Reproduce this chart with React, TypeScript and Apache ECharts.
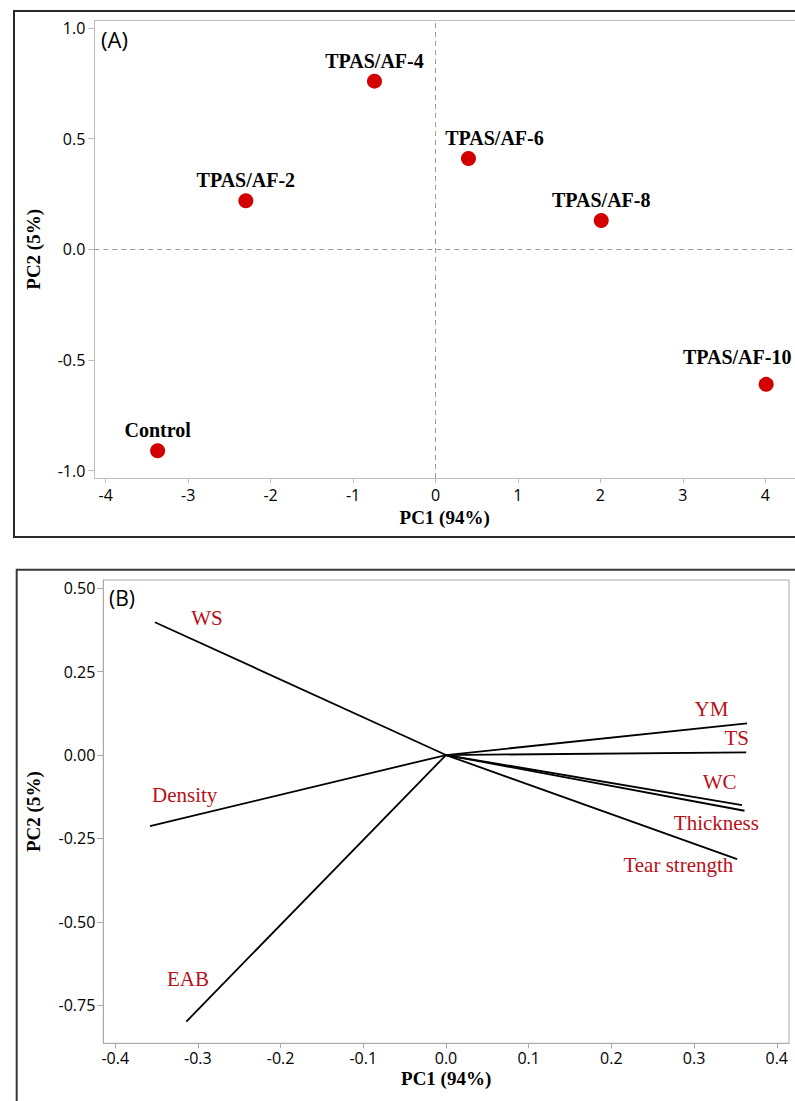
import React, { useEffect, useRef } from "react";
import * as echarts from "echarts";

// Panel A: PCA scores
const samples = ["Control", "TPAS/AF-2", "TPAS/AF-4", "TPAS/AF-6", "TPAS/AF-8", "TPAS/AF-10"];
const pc1Scores = [-3.37, -2.3, -0.74, 0.4, 2.01, 4.01];
const pc2Scores = [-0.91, 0.22, 0.76, 0.41, 0.13, -0.61];
const scoreXTicks = [-4, -3, -2, -1, 0, 1, 2, 3, 4];
const scoreYTicks = [-1.0, -0.5, 0.0, 0.5, 1.0];

// Panel B: PCA loadings
const variables = ["WS", "Density", "EAB", "YM", "TS", "WC", "Thickness", "Tear strength"];
const pc1Loadings = [-0.352, -0.358, -0.314, 0.364, 0.363, 0.358, 0.361, 0.352];
const pc2Loadings = [0.398, -0.213, -0.799, 0.095, 0.008, -0.15, -0.167, -0.312];
// where each variable's name is written (data coordinates)
const labelPc1 = [-0.289, -0.316, -0.312, 0.321, 0.3515, 0.331, 0.327, 0.281];
const labelPc2 = [0.41, -0.12, -0.672, 0.137, 0.05, -0.08, -0.205, -0.33];
const loadingXTicks = [-0.4, -0.3, -0.2, -0.1, 0.0, 0.1, 0.2, 0.3, 0.4];
const loadingYTicks = [-0.75, -0.5, -0.25, 0.0, 0.25, 0.5];

// label nudges for crowded score labels (pixels)
const scoreLabelOffsets: number[][] = [[0, 0], [0, 0], [0, 0], [26, 0], [0, 0], [-29, -7]];

const SERIF = "Liberation Serif";
const SANS = "Open Sans";

export default function App() {
  const ref = useRef<HTMLDivElement>(null);
  useEffect(() => {
    if (!ref.current) return;
    const chart = echarts.init(ref.current, null, { renderer: "svg" });
    const tickLabel = { fontFamily: SANS, fontSize: 16, color: "#000" };
    const option: any = {
      animation: false,
      backgroundColor: "#fff",
      graphic: [
        {
          type: "rect",
          shape: { x: 14, y: 11, width: 800, height: 526 },
          style: { fill: "none", stroke: "#2a2a2a", lineWidth: 2 },
          silent: true,
        },
        {
          type: "rect",
          shape: { x: 16.7, y: 569.7, width: 800, height: 560 },
          style: { fill: "none", stroke: "#3a3a3a", lineWidth: 2 },
          silent: true,
        },
        {
          type: "text",
          left: 101,
          top: 28,
          style: { text: "(A)", font: `22px "${SANS}"`, fill: "#000" },
        },
        {
          type: "text",
          left: 109,
          top: 587,
          style: { text: "(B)", font: `21px "${SANS}"`, fill: "#000" },
        },
      ],
      grid: [
        { left: 94.3, top: 20.7, right: 0, height: 457.3 },
        {
          left: 103.3,
          top: 580,
          right: 6,
          height: 463.3,
          show: true,
          borderColor: "#a8a8a8",
          borderWidth: 1,
        },
      ],
      xAxis: [
        {
          gridIndex: 0,
          type: "value",
          min: -4.138,
          max: 4.36,
          name: "PC1 (94%)",
          nameLocation: "middle",
          nameGap: 30,
          nameTextStyle: { fontFamily: SERIF, fontSize: 19, fontWeight: "bold", color: "#000" },
          axisLine: { show: true, onZero: false, lineStyle: { color: "#bdbdbd", width: 1 } },
          axisTick: { show: true, length: 5, customValues: scoreXTicks, lineStyle: { color: "#bdbdbd" } },
          axisLabel: { ...tickLabel, margin: 9, customValues: scoreXTicks, formatter: (v: number) => String(v) },
          splitLine: { show: false },
        },
        {
          gridIndex: 0,
          type: "value",
          position: "top",
          min: -4.138,
          max: 4.36,
          axisLine: { show: true, onZero: false, lineStyle: { color: "#bdbdbd", width: 1 } },
          axisTick: { show: false },
          axisLabel: { show: false },
          splitLine: { show: false },
        },
        {
          gridIndex: 1,
          type: "value",
          min: -0.4144,
          max: 0.4148,
          name: "PC1 (94%)",
          nameLocation: "middle",
          nameGap: 26,
          nameTextStyle: { fontFamily: SERIF, fontSize: 19, fontWeight: "bold", color: "#000" },
          axisLine: { show: true, onZero: false, lineStyle: { color: "#a8a8a8", width: 1 } },
          axisTick: { show: true, length: 5, customValues: loadingXTicks, lineStyle: { color: "#a8a8a8" } },
          axisLabel: {
            ...tickLabel,
            margin: 7,
            customValues: loadingXTicks,
            formatter: (v: number) => v.toFixed(1),
          },
          splitLine: { show: false },
        },
      ],
      yAxis: [
        {
          gridIndex: 0,
          type: "value",
          min: -1.033,
          max: 1.033,
          name: "PC2 (5%)",
          nameLocation: "middle",
          nameGap: 51,
          nameTextStyle: { fontFamily: SERIF, fontSize: 19, fontWeight: "bold", color: "#000" },
          axisLine: { show: true, onZero: false, lineStyle: { color: "#bdbdbd", width: 1 } },
          axisTick: { show: true, length: 6, customValues: scoreYTicks, lineStyle: { color: "#bdbdbd" } },
          axisLabel: { ...tickLabel, margin: 9, customValues: scoreYTicks, formatter: (v: number) => v.toFixed(1) },
          splitLine: { show: false },
        },
        {
          gridIndex: 1,
          type: "value",
          min: -0.864,
          max: 0.5246,
          name: "PC2 (5%)",
          nameLocation: "middle",
          nameGap: 60,
          nameTextStyle: { fontFamily: SERIF, fontSize: 19, fontWeight: "bold", color: "#000" },
          axisLine: { show: true, onZero: false, lineStyle: { color: "#a8a8a8", width: 1 } },
          axisTick: { show: true, length: 6, customValues: loadingYTicks, lineStyle: { color: "#a8a8a8" } },
          axisLabel: { ...tickLabel, margin: 8, customValues: loadingYTicks, formatter: (v: number) => v.toFixed(2) },
          splitLine: { show: false },
        },
      ],
      series: [
        {
          type: "scatter",
          xAxisIndex: 0,
          yAxisIndex: 0,
          symbol: "circle",
          symbolSize: 15,
          itemStyle: { color: "#d20000", opacity: 1 },
          label: {
            show: true,
            position: "top",
            distance: 3,
            formatter: "{b}",
            fontFamily: SERIF,
            fontSize: 20,
            fontWeight: "bold",
            color: "#000",
          },
          data: samples.map((s, i) => ({
            name: s,
            value: [pc1Scores[i], pc2Scores[i]],
            label: { offset: scoreLabelOffsets[i] },
          })),
          markLine: {
            silent: true,
            symbol: ["none", "none"],
            label: { show: false },
            lineStyle: { type: [5, 4], color: "#9a9a9a", width: 1 },
            data: [{ xAxis: 0 }, { yAxis: 0 }],
          },
          z: 5,
        },
        ...variables.map((v, i) => ({
          type: "line",
          name: v,
          xAxisIndex: 2,
          yAxisIndex: 1,
          symbol: "none",
          lineStyle: { color: "#000", width: 1.8 },
          data: [
            [0, 0],
            [pc1Loadings[i], pc2Loadings[i]],
          ],
        })),
        {
          type: "scatter",
          xAxisIndex: 2,
          yAxisIndex: 1,
          symbolSize: 1,
          itemStyle: { color: "rgba(0,0,0,0)", opacity: 1 },
          label: {
            show: true,
            position: "inside",
            formatter: "{b}",
            fontFamily: SERIF,
            fontSize: 21,
            color: "#b8101a",
          },
          data: variables.map((v, i) => ({ name: v, value: [labelPc1[i], labelPc2[i]] })),
        },
      ],
    };
    chart.setOption(option);
    return () => chart.dispose();
  }, []);
  return (
    <div
      ref={ref}
      style={{ position: "absolute", left: 0, top: 0, width: 795, height: 1101, overflow: "hidden" }}
    />
  );
}
